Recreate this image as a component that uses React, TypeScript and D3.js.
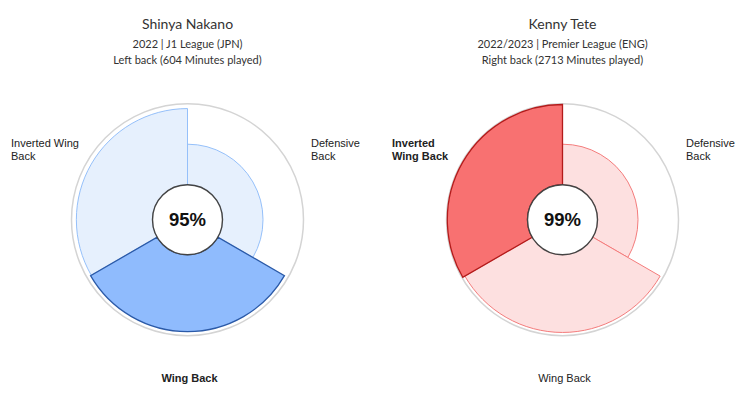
import React from "react";
import * as d3 from "d3";

const roles = ["Defensive Back", "Wing Back", "Inverted Wing Back"];
const playerNames = ["Shinya Nakano", "Kenny Tete"];
const seasonLines = ["2022 | J1 League (JPN)", "2022/2023 | Premier League (ENG)"];
const positionLines = ["Left back (604 Minutes played)", "Right back (2713 Minutes played)"];
const nakanoValues = [50, 95, 94];
const teteValues = [50, 96, 99];
const highlightIndex = [1, 2];
const centerScores = [95, 99];
const nakanoLabelLines = [["Defensive", "Back"], ["Wing Back"], ["Inverted Wing", "Back"]];
const teteLabelLines = [["Defensive", "Back"], ["Wing Back"], ["Inverted", "Wing Back"]];

const W = 750;
const H = 414;
const CY = 219.7;
const CX = [187.5, 562.5];
const INNER = 35;
const OUTER = 116;

const palettes = [
  { light: "#e6f0fd", lightStroke: "#95c0fa", strong: "#8fbbfd", strongStroke: "#2b5aa8" },
  { light: "#fde0e0", lightStroke: "#f47c7c", strong: "#f87171", strongStroke: "#b31b1b" },
];

const titleFont = "Lato, 'Noto Sans', sans-serif";
const labelFont = "'Liberation Sans', Arial, sans-serif";

function Radial({ idx, values, labels }: { idx: number; values: number[]; labels: string[][] }) {
  const cx = CX[idx];
  const pal = palettes[idx];
  const r = d3.scaleLinear().domain([0, 100]).range([INNER, OUTER]);
  const step = (2 * Math.PI) / roles.length;
  const arc = d3.arc<any>();
  const hi = highlightIndex[idx];
  const order = roles.map((_, i) => i).sort((a, b) => (a === hi ? 1 : 0) - (b === hi ? 1 : 0));
  const labelPos = [
    { x: cx + 123.5, y: CY - 72.5, anchor: "start" },
    { x: cx + 2, y: CY + 162, anchor: "middle" },
    { x: idx === 0 ? cx - 176.5 : cx - 170.5, y: CY - 72.5, anchor: "start" },
  ];
  return (
    <g>
      <text x={cx} y={29} textAnchor="middle" fontFamily={titleFont} fontSize={14} fill="#333">
        {playerNames[idx]}
      </text>
      <text x={cx} y={48} textAnchor="middle" fontFamily={titleFont} fontSize={11} fill="#333">
        {seasonLines[idx]}
      </text>
      <text x={cx} y={63.5} textAnchor="middle" fontFamily={titleFont} fontSize={11} fill="#333">
        {positionLines[idx]}
      </text>
      <circle cx={cx} cy={CY} r={OUTER} fill="white" stroke="#d4d4d4" strokeWidth={1.5} />
      <g transform={`translate(${cx},${CY})`}>
        {order.map((i) => {
          const d = arc({
            innerRadius: INNER,
            outerRadius: r(values[i]),
            startAngle: i * step,
            endAngle: (i + 1) * step,
          }) as string;
          const strong = i === hi;
          return (
            <path
              key={i}
              d={d}
              fill={strong ? pal.strong : pal.light}
              stroke={strong ? pal.strongStroke : pal.lightStroke}
              strokeWidth={strong ? 1.3 : 1}
            />
          );
        })}
        <circle r={INNER} fill="white" stroke="#444" strokeWidth={1.4} />
        <text y={6.5} textAnchor="middle" fontFamily={labelFont} fontWeight="bold" fontSize={18.5} fill="#111">
          {centerScores[idx]}%
        </text>
      </g>
      {roles.map((role, i) => {
        const p = labelPos[i];
        const lines = labels[i];
        return (
          <text
            key={role}
            x={p.x}
            y={p.y}
            textAnchor={p.anchor as any}
            fontFamily={labelFont}
            fontSize={11}
            fontWeight={i === hi ? "bold" : "normal"}
            fill="#222"
          >
            {lines.map((ln, k) => (
              <tspan key={k} x={p.x} dy={k === 0 ? 0 : 12.5}>
                {ln}
              </tspan>
            ))}
          </text>
        );
      })}
    </g>
  );
}

export default function App() {
  return (
    <svg
      width={W}
      height={H}
      viewBox={`0 0 ${W} ${H}`}
      style={{ position: "absolute", left: 0, top: 0, background: "white" }}
    >
      <rect width={W} height={H} fill="white" />
      <Radial idx={0} values={nakanoValues} labels={nakanoLabelLines} />
      <Radial idx={1} values={teteValues} labels={teteLabelLines} />
    </svg>
  );
}
